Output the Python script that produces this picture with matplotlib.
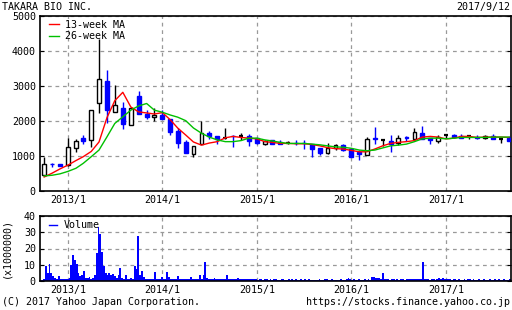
import numpy as np
import pandas as pd
import matplotlib
matplotlib.use('Agg')
import matplotlib.pyplot as plt
import matplotlib.dates as mdates
from matplotlib.lines import Line2D

plt.rcParams['font.family'] = 'DejaVu Sans Mono'

# monthly candles 2012/10 .. 2017/9
months = pd.date_range('2012-10-01', '2017-09-01', freq='MS')
opens = [457, 780, 760, 740, 1220, 1510, 1470, 2500, 3140, 2250,
         2370, 1880, 2710, 2210, 2110, 2170, 2060, 1710, 1400, 1060,
         1340, 1660, 1570, 1520, 1580, 1570, 1570, 1510, 1340, 1450,
         1400, 1370, 1380, 1380, 1340, 1220, 1090, 1220, 1310, 1200,
         1100, 1020, 1510, 1450, 1430, 1370, 1530, 1490, 1650, 1510,
         1430, 1590, 1590, 1570, 1570, 1550, 1510, 1570, 1480, 1510]
highs = [970, 790, 770, 1510, 1490, 1600, 2320, 4340, 3460, 3020,
         2540, 2370, 2860, 2310, 2370, 2310, 2060, 1800, 1450, 1290,
         2000, 1710, 1570, 1800, 1600, 1650, 1630, 1520, 1450, 1460,
         1470, 1430, 1460, 1450, 1350, 1230, 1360, 1340, 1340, 1230,
         1180, 1540, 1830, 1480, 1590, 1600, 1570, 1800, 1860, 1510,
         1590, 1640, 1640, 1640, 1570, 1600, 1600, 1640, 1480, 1570]
lows = [430, 680, 710, 720, 1110, 1340, 1270, 2220, 1950, 2250,
        1780, 1880, 2190, 2060, 2000, 2060, 1600, 1230, 1080, 970,
        1340, 1480, 1340, 1500, 1260, 1460, 1290, 1340, 1320, 1340,
        1340, 1340, 1310, 1190, 980, 1040, 1060, 1170, 1130, 980,
        890, 1020, 1340, 1280, 1110, 1310, 1430, 1490, 1490, 1330,
        1370, 1520, 1520, 1510, 1480, 1480, 1480, 1490, 1370, 1430]
closes = [771, 760, 720, 1260, 1430, 1420, 2310, 3190, 2310, 2450,
          1920, 2370, 2190, 2120, 2170, 2060, 1690, 1380, 1080, 1290,
          1660, 1570, 1490, 1520, 1560, 1570, 1430, 1360, 1430, 1340,
          1340, 1370, 1360, 1360, 1200, 1080, 1230, 1310, 1170, 980,
          1070, 1480, 1480, 1450, 1340, 1510, 1500, 1680, 1490, 1450,
          1550, 1590, 1540, 1510, 1570, 1510, 1570, 1490, 1480, 1430]
ma13 = [400, 510, 630, 740, 870, 980, 1130, 1400, 2100, 2580,
        2820, 2400, 2260, 2230, 2200, 2240, 2030, 1800, 1600, 1400,
        1310, 1370, 1410, 1520, 1560, 1530, 1510, 1490, 1410, 1390,
        1360, 1360, 1350, 1350, 1330, 1290, 1240, 1210, 1200, 1160,
        1120, 1120, 1200, 1290, 1360, 1390, 1410, 1440, 1540, 1560,
        1540, 1490, 1510, 1560, 1560, 1530, 1540, 1540, 1540, 1530]
ma26 = [430, 450, 490, 560, 650, 790, 980, 1170, 1550, 1930,
        2120, 2310, 2430, 2500, 2310, 2250, 2170, 2110, 2010, 1800,
        1650, 1540, 1460, 1410, 1410, 1440, 1510, 1510, 1460, 1430,
        1390, 1360, 1360, 1360, 1340, 1320, 1290, 1260, 1250, 1220,
        1170, 1150, 1170, 1230, 1290, 1310, 1340, 1410, 1490, 1510,
        1510, 1490, 1510, 1530, 1530, 1530, 1530, 1540, 1540, 1540]

# weekly volume (x1,000,000)
weeks = pd.date_range('2012-09-17', periods=261, freq='7D')
volume = [0.5, 0.8, 1.0, 9.0, 5.0, 10.5, 5.0, 3.0, 2.0, 1.5,
          3.0, 1.5, 1.2, 1.0, 1.5, 1.2, 2.0, 10.0, 16.0, 13.0,
          10.5, 5.0, 3.0, 4.0, 6.0, 2.0, 2.0, 2.5, 1.5, 2.0,
          3.5, 17.0, 33.0, 29.0, 18.0, 9.0, 5.0, 3.5, 5.0, 4.0,
          4.5, 3.0, 2.0, 4.0, 8.0, 2.0, 1.5, 4.0, 1.5, 1.5,
          2.0, 1.5, 9.0, 7.5, 27.5, 4.0, 6.0, 2.5, 1.5, 1.5,
          1.2, 1.5, 1.3, 5.5, 1.5, 1.2, 1.5, 2.5, 1.2, 1.5,
          5.5, 2.5, 1.5, 1.2, 1.5, 1.0, 3.0, 1.2, 1.0, 1.5,
          1.2, 1.0, 1.3, 2.5, 1.0, 1.2, 1.0, 1.1, 3.5, 1.5,
          4.0, 12.0, 2.0, 1.5, 1.2, 1.5, 2.0, 1.2, 1.0, 1.2,
          1.3, 1.0, 1.5, 4.0, 1.2, 1.0, 1.3, 1.2, 1.0, 2.0,
          1.2, 1.0, 1.5, 1.1, 1.0, 1.3, 1.2, 1.0, 1.5, 1.0,
          0.9, 1.2, 1.0, 0.8, 1.5, 1.0, 0.9, 1.1, 0.8, 1.0,
          1.2, 0.9, 0.8, 1.0, 1.3, 0.9, 0.8, 1.0, 0.9, 1.2,
          0.8, 1.0, 0.9, 0.8, 1.1, 0.9, 1.0, 0.8, 1.0, 0.7,
          0.8, 0.9, 0.7, 0.8, 1.0, 0.9, 0.8, 1.0, 1.5, 0.9,
          0.8, 1.0, 0.9, 0.8, 0.9, 0.8, 1.0, 0.9, 0.8, 1.0,
          2.0, 1.0, 0.9, 1.5, 0.8, 0.9, 1.0, 0.8, 0.9, 1.0,
          0.9, 1.0, 0.9, 2.5, 2.5, 2.0, 1.7, 2.0, 1.5, 5.0,
          1.5, 1.2, 1.0, 0.9, 1.1, 1.0, 0.9, 1.0, 0.9, 1.0,
          1.1, 0.9, 1.0, 1.2, 1.0, 1.5, 1.2, 1.0, 1.5, 1.2,
          1.0, 11.5, 1.5, 1.2, 1.0, 0.9, 1.0, 1.1, 0.9, 1.5,
          1.8, 1.2, 2.0, 1.2, 1.5, 1.0, 1.2, 0.9, 1.0, 1.1,
          0.9, 1.0, 0.8, 0.9, 1.0, 0.9, 1.0, 1.5, 0.9, 1.0,
          0.8, 0.9, 1.0, 0.8, 0.9, 1.0, 0.8, 0.9, 1.0, 0.9,
          0.8, 1.0, 0.9, 1.5, 0.9, 0.8, 1.0, 0.9, 0.8, 1.0, 0.9]

year_ticks = pd.to_datetime(['2013-01-01', '2014-01-01', '2015-01-01', '2016-01-01', '2017-01-01'])
year_labels = ['2013/1', '2014/1', '2015/1', '2016/1', '2017/1']

BLUE = '#0000ff'
fs = 7.2

fig = plt.figure(figsize=(5.12, 3.10), dpi=100)
ax = fig.add_axes([40/512, 1 - 191/310, 471/512, 175/310])
axv = fig.add_axes([40/512, 1 - 281/310, 471/512, 65/310])

x = mdates.date2num(months)
o = np.array(opens); h = np.array(highs); l = np.array(lows); c = np.array(closes)
for xi, oi, hi, li, ci in zip(x, o, h, l, c):
    if ci > oi:
        col, face = 'black', 'white'
    elif ci < oi:
        col, face = BLUE, BLUE
    else:
        col, face = 'black', 'black'
    ax.vlines(xi, li, hi, color=col, lw=1.0, zorder=3)
    lo, hi_b = min(oi, ci), max(oi, ci)
    if hi_b - lo < 15:
        ax.hlines(oi, xi - 8, xi + 8, color=col, lw=1.6, zorder=4)
    else:
        ax.bar(xi, hi_b - lo, bottom=lo, width=15, facecolor=face,
               edgecolor=col, lw=1.0, zorder=4)

ax.plot(x, ma13, color='#ff0000', lw=1.0, label='13-week MA', zorder=5)
ax.plot(x, ma26, color='#00c000', lw=1.0, label='26-week MA', zorder=5)

axv.bar(mdates.date2num(weeks), volume, width=7, color=BLUE, lw=0, antialiased=False)

xmin = mdates.date2num(pd.Timestamp('2012-09-15'))
xmax = mdates.date2num(pd.Timestamp('2017-09-09'))
for a in (ax, axv):
    a.set_xlim(xmin, xmax)
    a.set_xticks(mdates.date2num(year_ticks))
    a.set_xticklabels(year_labels, fontsize=fs)
    a.tick_params(axis='x', length=0, pad=3)
    a.tick_params(axis='y', direction='in', length=3, right=True, labelsize=fs, pad=3)
    a.grid(True, color='#999999', ls=(0, (3, 3)), lw=0.9)
    for s in a.spines.values():
        s.set_linewidth(1.2)
    a.set_axisbelow(True)

ax.set_ylim(0, 5000)
ax.set_yticks([0, 1000, 2000, 3000, 4000, 5000])
axv.set_ylim(0, 40)
axv.set_yticks([0, 10, 20, 30, 40])

ax.legend(loc='upper left', bbox_to_anchor=(0.005, 1.02), frameon=False, fontsize=fs,
          handlelength=1.0, handletextpad=0.6, labelspacing=0.15, borderaxespad=0.3)
axv.legend(handles=[Line2D([], [], color=BLUE, lw=1.0)], labels=['Volume'],
           loc='upper left', bbox_to_anchor=(0.005, 1.04), frameon=False, fontsize=fs,
           handlelength=0.8, handletextpad=0.6, borderaxespad=0.3)

fig.text(2/512, 1 - 7/310, 'TAKARA BIO INC.', fontsize=fs, va='center', ha='left')
fig.text(510/512, 1 - 7/310, '2017/9/12', fontsize=fs, va='center', ha='right')
fig.text(2/512, 1 - 302/310, '(C) 2017 Yahoo Japan Corporation.', fontsize=fs, va='center', ha='left')
fig.text(510/512, 1 - 302/310, 'https://stocks.finance.yahoo.co.jp', fontsize=fs, va='center', ha='right')
fig.text(6/512, 1 - 248/310, '(x1000000)', fontsize=fs, rotation=90, va='center', ha='center')

fig.savefig('out.png', dpi=100)
